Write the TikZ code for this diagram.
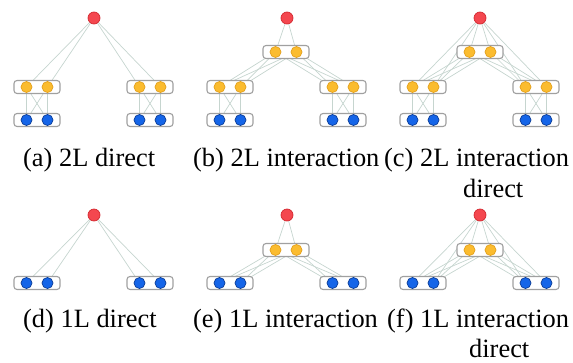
\documentclass[tikz,border=0pt]{standalone}
\usepackage{fontspec}
\setmainfont{LiberationSerif}[Extension=.ttf,UprightFont=*-Regular,BoldFont=*-Bold]
\usepackage{xcolor}
\usepackage{tikz}
\usetikzlibrary{backgrounds}

\definecolor{redfill}{HTML}{F4474F}
\definecolor{redline}{HTML}{D42830}
\definecolor{yelfill}{HTML}{FBBC2F}
\definecolor{yelline}{HTML}{E3A01C}
\definecolor{bluefill}{HTML}{1565E8}
\definecolor{blueline}{HTML}{0B3C96}
\definecolor{boxgray}{HTML}{A0A0A0}
\definecolor{edgegray}{HTML}{C6D5CF}

% a rounded box holding two units
\newcommand{\pairnodes}[4]{%
	\node[pairbox] (#1) at (#2,#3) {};
	\node[#4] (#1-1) at ([xshift=-10.5pt]#1.center) {};
	\node[#4] (#1-2) at ([xshift=10.5pt]#1.center) {};}

\begin{document}
\begin{tikzpicture}[x=1pt,y=-1pt,
		edge/.style={draw=edgegray,line width=0.7pt},
		pairbox/.style={draw=boxgray,line width=1.1pt,rounded corners=3pt,fill=white,
			minimum width=46pt,minimum height=13pt,inner sep=0pt},
		unit/.style={circle,inner sep=0pt,minimum size=11pt,line width=0.7pt},
		outunit/.style={unit,fill=redfill,draw=redline,minimum size=12pt},
		hidunit/.style={unit,fill=yelfill,draw=yelline},
		inunit/.style={unit,fill=bluefill,draw=blueline},
		subcap/.style={anchor=base west,inner sep=0pt,font=\rmfamily\fontsize{26.4}{30}\selectfont}
	]
	\useasboundingbox (0,0) rectangle (573,362);
	
	% two-layer models
	\foreach \p/\cx in {a/94,b/287,c/480}{
		\node[outunit] (\p-o) at (\cx,18) {};
		\pairnodes{\p-hl}{\cx-57}{87}{hidunit}
		\pairnodes{\p-hr}{\cx+56}{87}{hidunit}
		\pairnodes{\p-il}{\cx-57}{120}{inunit}
		\pairnodes{\p-ir}{\cx+56}{120}{inunit}
	}
	\pairnodes{b-m}{286}{52}{hidunit}
	\pairnodes{c-m}{480}{52}{hidunit}
	
	% one-layer models
	\foreach \p/\cx in {d/94,e/287,f/480}{
		\node[outunit] (\p-o) at (\cx,215) {};
		\pairnodes{\p-il}{\cx-57}{283}{inunit}
		\pairnodes{\p-ir}{\cx+56}{283}{inunit}
	}
	\pairnodes{e-m}{286}{250}{hidunit}
	\pairnodes{f-m}{480}{250}{hidunit}
	
	\begin{pgfonlayer}{background}
		\foreach \s in {1,2}{
			\foreach \t in {1,2}{
				% hidden to input
				\foreach \p in {a,b,c}{
					\draw[edge] (\p-hl-\s) -- (\p-il-\t);
					\draw[edge] (\p-hr-\s) -- (\p-ir-\t);
				}
				% interaction to hidden
				\foreach \p in {b,c}{
					\draw[edge] (\p-m-\s) -- (\p-hl-\t);
					\draw[edge] (\p-m-\s) -- (\p-hr-\t);
				}
				\foreach \p in {e,f}{
					\draw[edge] (\p-m-\s) -- (\p-il-\t);
					\draw[edge] (\p-m-\s) -- (\p-ir-\t);
				}
			}
			% output links
			\foreach \p in {a,c}{
				\draw[edge] (\p-o) -- (\p-hl-\s);
				\draw[edge] (\p-o) -- (\p-hr-\s);
			}
			\foreach \p in {d,f}{
				\draw[edge] (\p-o) -- (\p-il-\s);
				\draw[edge] (\p-o) -- (\p-ir-\s);
			}
			\foreach \p in {b,c,e,f}{
				\draw[edge] (\p-o) -- (\p-m-\s);
			}
		}
	\end{pgfonlayer}
	
	% captions
	\node[subcap] (a-cap) at (23,166) {(a) 2L direct};
	\node[subcap] (b-cap) at (193,166) {(b) 2L interaction};
	\node[subcap] (c-cap) at (384,166) {(c) 2L interaction};
	\node[subcap] (c-cap2) at (463,197) {direct};
	\node[subcap] (d-cap) at (23,327) {(d) 1L direct};
	\node[subcap] (e-cap) at (193,327) {(e) 1L interaction};
	\node[subcap] (f-cap) at (387,327) {(f) 1L interaction};
	\node[subcap] (f-cap2) at (469,357) {direct};
\end{tikzpicture}
\end{document}
